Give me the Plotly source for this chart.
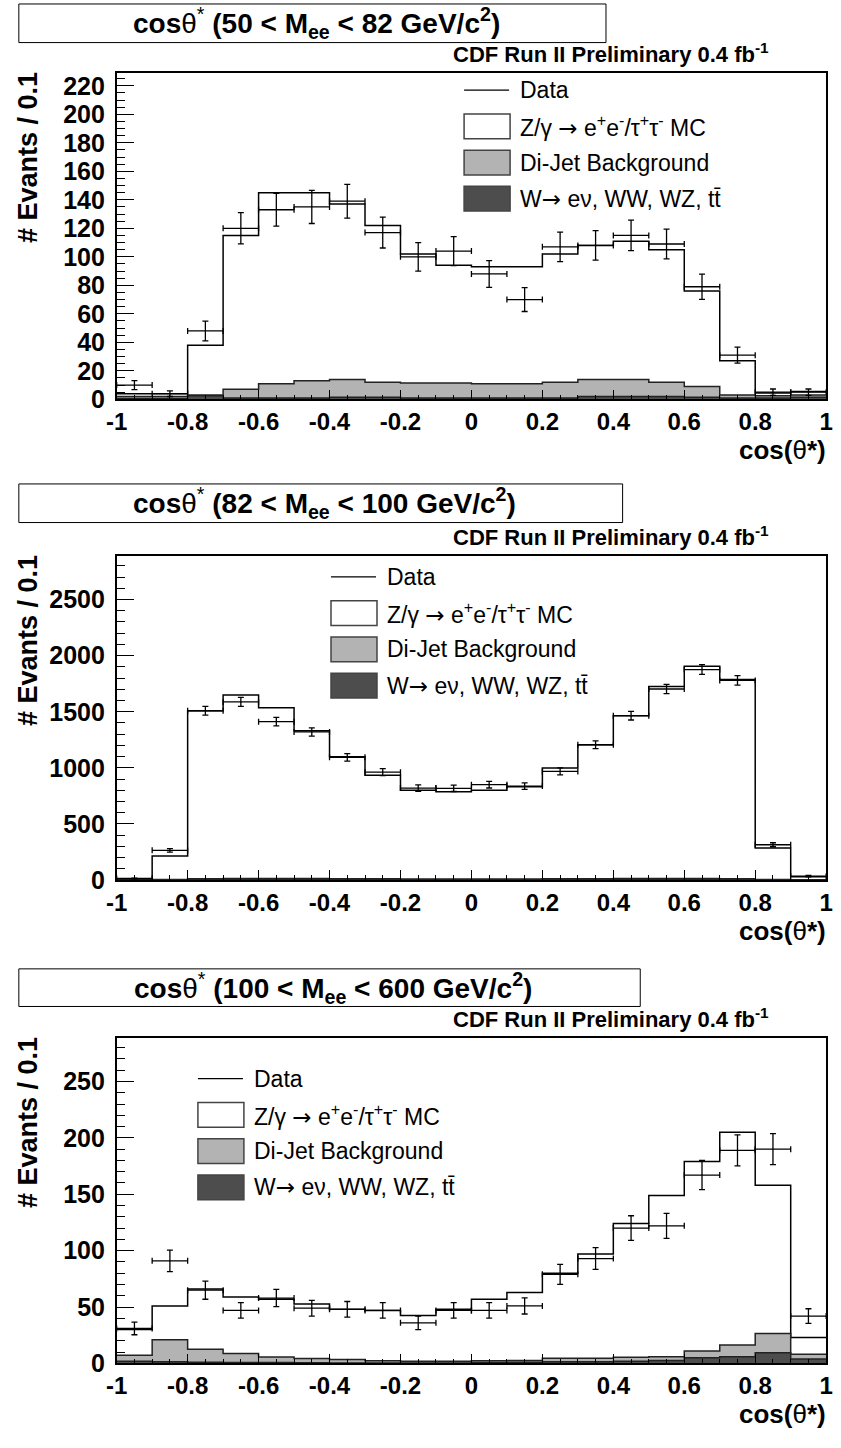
import numpy as np
import plotly.graph_objects as go

W, H = 841, 1448
FONT = "Liberation Sans, Arial, Helvetica, sans-serif"

# ---------------- data ----------------
BIN_EDGES = [-1.0, -0.9, -0.8, -0.7, -0.6, -0.5, -0.4, -0.3, -0.2, -0.1, 0.0,
             0.1, 0.2, 0.3, 0.4, 0.5, 0.6, 0.7, 0.8, 0.9, 1.0]
X_TICKS = [-1.0, -0.8, -0.6, -0.4, -0.2, 0.0, 0.2, 0.4, 0.6, 0.8, 1.0]
X_TICKTEXT = ["-1", "-0.8", "-0.6", "-0.4", "-0.2", "0", "0.2", "0.4", "0.6", "0.8", "1"]

# Panel 1 : 50 < Mee < 82
P1_DATA  = [10, 4, 48, 120, 133, 135, 139, 117, 100, 104, 88, 70, 107, 108, 115, 109, 79, 31, 5, 5]
P1_ZG    = [2, 2, 35, 108, 134, 132, 123, 110, 90.5, 82.5, 82, 82, 90, 94, 97, 93, 67, 24, 2, 2.5]
P1_DIJET = [1.5, 1.5, 0.5, 6, 10, 12, 12.5, 10.5, 10.5, 10.5, 10, 10, 11, 12, 12, 10, 7.5, 2, 1.5, 1.5]
P1_EWK   = [0.5, 0.5, 2.5, 1, 1, 1, 1.5, 1.5, 1, 1, 1, 1, 1, 2, 2, 2, 1.5, 1, 1, 1.5]

# Panel 2 : 82 < Mee < 100
P2_DATA  = [14, 265, 1509, 1588, 1412, 1320, 1094, 962, 820, 818, 850, 838, 968, 1206, 1465, 1703, 1876, 1779, 315, 35]
P2_ZG    = [12, 209, 1497, 1635, 1520, 1316, 1088, 924, 791, 779, 791, 823, 989, 1194, 1451, 1711, 1891, 1776, 280, 26]
P2_DIJET = [2, 4, 8, 10, 10, 9, 8, 7, 6, 6, 6, 6, 7, 8, 9, 10, 10, 8, 3, 2]
P2_EWK   = [1, 2, 4, 5, 5, 5, 4, 4, 3, 3, 3, 3, 4, 4, 5, 5, 5, 4, 2, 1]

# Panel 3 : 100 < Mee < 600
P3_DATA  = [31, 91, 65, 47, 58, 49, 48, 47, 36, 47, 47, 51, 79, 93, 120, 122, 167, 189, 190, 42]
P3_ZG    = [22.7, 30, 53.4, 50.2, 51.2, 48.2, 44.5, 44.7, 40.4, 46, 54.7, 60.5, 75.5, 92.5, 118.5, 143, 168, 188.6, 131.4, 14.8]
P3_DIJET = [5.3, 19.5, 11.6, 8, 5, 3.8, 3, 1.8, 1.5, 1.5, 1.5, 1.5, 3, 3, 3.5, 3.5, 6, 10.4, 17.2, 4.2]
P3_EWK   = [2, 1.5, 1, 0.8, 0.8, 0.6, 0.5, 0.5, 0.5, 0.5, 0.8, 1, 1.5, 1.5, 2, 2.5, 5, 6, 9.4, 4]

TITLES = [
    "<b>cos</b>θ<sup>*</sup><b> (50 &lt; M<sub>ee</sub> &lt; 82 GeV/c<sup>2</sup>)</b>",
    "<b>cos</b>θ<sup>*</sup><b> (82 &lt; M<sub>ee</sub> &lt; 100 GeV/c<sup>2</sup>)</b>",
    "<b>cos</b>θ<sup>*</sup><b> (100 &lt; M<sub>ee</sub> &lt; 600 GeV/c<sup>2</sup>)</b>",
]
ARROW = "<span style='font-family:DejaVu Sans'>→</span>"
LEG_LABELS = ["Data",
              "Z/γ " + ARROW + " e<sup>+</sup>e<sup>-</sup>/τ<sup>+</sup>τ<sup>-</sup> MC",
              "Di-Jet Background",
              "W" + ARROW + " eν, WW, WZ, tt\u0304"]
CDF_TEXT = "<b>CDF Run II Preliminary 0.4 fb<sup>-1</sup></b>"
YTITLE = "<b># Evants / 0.1</b>"
XTITLE = "<b>cos(</b>θ<b>*)</b>"

# ---------------- layout geometry (pixels) ----------------
PANELS = [
    dict(data=P1_DATA, zg=P1_ZG, dj=P1_DIJET, ew=P1_EWK, top=72.7, bot=402.5, ymax=229,
         dtick=20, minor=5, box=(8, 3, 608, 42), leg=(463, 90)),
    dict(data=P2_DATA, zg=P2_ZG, dj=P2_DIJET, ew=P2_EWK, top=560.7, bot=888.3, ymax=2889,
         dtick=500, minor=100, box=(8, 488, 625, 527), leg=(327, 582)),
    dict(data=P3_DATA, zg=P3_ZG, dj=P3_DIJET, ew=P3_EWK, top=1047.8, bot=1376.7, ymax=288.6,
         dtick=50, minor=10, box=(8, 978, 643, 1016), leg=(191, 1089)),
]
X_LEFT, X_RIGHT = 108, 833

LIGHT = "#b3b3b3"
DARK = "#4d4d4d"


def px(x):
    return x / W


def py(y):
    return 1 - y / H


edges = np.array(BIN_EDGES)
centers = (edges[:-1] + edges[1:]) / 2

fig = go.Figure()
shapes = []
annotations = []
layout = {}

for i, p in enumerate(PANELS):
    sfx = "" if i == 0 else str(i + 1)
    xa, ya = "x" + sfx, "y" + sfx
    zg = np.array(p["zg"], float)
    dj = np.array(p["dj"], float)
    ew = np.array(p["ew"], float)
    data = np.array(p["data"], float)
    stack_ew = ew
    stack_dj = ew + dj
    stack_all = ew + dj + zg

    def step(vals):
        return list(vals) + [vals[-1]]

    for vals, fill, lc in [(stack_all, "white", "black"),
                           (stack_dj, LIGHT, "#222222"),
                           (stack_ew, DARK, "#222222")]:
        fig.add_trace(go.Scatter(
            x=edges, y=step(vals), mode="lines", line=dict(shape="hv", color=lc, width=1.5),
            fill="tozeroy", fillcolor=fill, xaxis=xa, yaxis=ya, hoverinfo="skip"))

    fig.add_trace(go.Scatter(
        x=centers, y=data, mode="markers", marker=dict(size=1, color="black"),
        error_y=dict(type="data", array=np.sqrt(data), width=3, thickness=1.3, color="black"),
        error_x=dict(type="constant", value=0.05, width=3, thickness=1.3, color="black"),
        xaxis=xa, yaxis=ya))

    dom_y = [py(p["bot"]), py(p["top"])]
    layout["xaxis" + sfx] = dict(
        domain=[px(X_LEFT), px(X_RIGHT)], range=[-1, 1], anchor=ya,
        showline=True, linecolor="black", linewidth=1.5, mirror=True,
        showgrid=False, zeroline=False,
        tickmode="array", tickvals=X_TICKS, ticktext=X_TICKTEXT,
        ticks="inside", ticklen=10, tickwidth=1, tickcolor="black",
        minor=dict(dtick=0.05, tick0=-1, ticks="inside", ticklen=5, tickwidth=1, tickcolor="black", showgrid=False),
        tickfont=dict(family=FONT, size=24, color="black", weight="bold"),
    )
    layout["yaxis" + sfx] = dict(
        domain=dom_y, range=[0, p["ymax"]], anchor=xa,
        showline=True, linecolor="black", linewidth=1.5, mirror=True,
        showgrid=False, zeroline=False,
        tick0=0, dtick=p["dtick"],
        ticks="inside", ticklen=18, tickwidth=1, tickcolor="black",
        minor=dict(dtick=p["minor"], ticks="inside", ticklen=9, tickwidth=1, tickcolor="black", showgrid=False),
        tickfont=dict(family=FONT, size=25, color="black", weight="bold"),
        ticklabelstandoff=5,
    )

    # title box
    bx0, by0, bx1, by1 = p["box"]
    shapes.append(dict(type="rect", xref="paper", yref="paper",
                       x0=px(bx0), x1=px(bx1), y0=py(by1), y1=py(by0),
                       line=dict(color="black", width=1), fillcolor="white", layer="above"))
    annotations.append(dict(text=TITLES[i], xref="paper", yref="paper",
                            x=px((bx0 + bx1) / 2 + 4), y=py((by0 + by1) / 2),
                            xanchor="center", yanchor="middle", showarrow=False,
                            font=dict(family=FONT, size=28, color="black")))
    # CDF label
    annotations.append(dict(text=CDF_TEXT, xref="paper", yref="paper",
                            x=px(777), y=py(p["top"] - 4), xanchor="right", yanchor="bottom",
                            showarrow=False, font=dict(family=FONT, size=22, color="black")))
    # axis titles
    annotations.append(dict(text=YTITLE, xref="paper", yref="paper", textangle=-90,
                            x=px(18), y=py(p["top"] - 3), xanchor="center", yanchor="top",
                            showarrow=False, font=dict(family=FONT, size=27, color="black")))
    annotations.append(dict(text=XTITLE, xref="paper", yref="paper",
                            x=px(835), y=py(p["bot"] + 51), xanchor="right", yanchor="middle",
                            showarrow=False, font=dict(family=FONT, size=26, color="black")))

    # legend
    lx, ly = p["leg"]
    step_y = 36.6
    shapes.append(dict(type="line", xref="paper", yref="paper",
                       x0=px(lx), x1=px(lx + 46), y0=py(ly), y1=py(ly),
                       line=dict(color="black", width=1.2)))
    for k, fc in enumerate(["white", LIGHT, DARK]):
        cy = ly + step_y * (k + 1)
        shapes.append(dict(type="rect", xref="paper", yref="paper",
                           x0=px(lx), x1=px(lx + 47), y0=py(cy + 12.5), y1=py(cy - 12.5),
                           line=dict(color="#444444", width=1.5), fillcolor=fc))
    for k, lab in enumerate(LEG_LABELS):
        cy = ly + step_y * k
        annotations.append(dict(text=lab, xref="paper", yref="paper",
                                x=px(lx + 55), y=py(cy), xanchor="left", yanchor="middle",
                                showarrow=False, font=dict(family=FONT, size=23, color="black")))

fig.update_layout(
    width=W, height=H, margin=dict(l=0, r=0, t=0, b=0),
    paper_bgcolor="white", plot_bgcolor="white", showlegend=False,
    shapes=shapes, annotations=annotations, **layout,
)

fig.write_html("out.html")
